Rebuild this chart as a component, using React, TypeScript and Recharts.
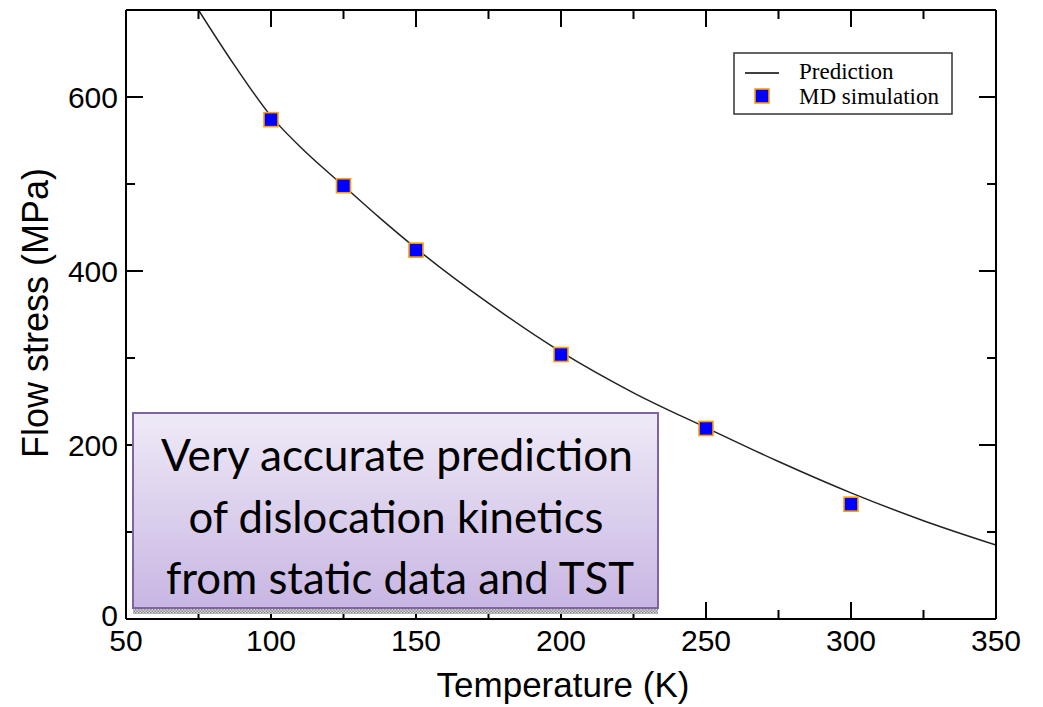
import React from "react";
import { ComposedChart, Line, Scatter, XAxis, YAxis } from "recharts";

// ---- data ----
const predictionTemperature = [75, 87.5, 100, 112.5, 125, 137.5, 150, 175, 200, 225, 250, 275, 300, 325, 350];
const predictionStress = [700, 636, 578, 535, 498, 461, 426, 363, 307, 260, 220, 181, 145, 113, 85];
const mdTemperature = [100, 125, 150, 200, 250, 300];
const mdStress = [574, 498, 424, 304, 219, 132];
const xTicks = [50, 75, 100, 125, 150, 175, 200, 225, 250, 275, 300, 325, 350];
const yTicks = [0, 100, 200, 300, 400, 500, 600, 700];
const xMajorStep = 50;
const yMajorStep = 200;
const boxLines = ["Very accurate prediction", "of dislocation kinetics", "from static data and TST"];
const legendLabels = ["Prediction", "MD simulation"];
const xTitle = "Temperature (K)";
const yTitle = "Flow stress (MPa)";

const predictionData = predictionTemperature.map((x, i) => ({ x, y: predictionStress[i] }));
const mdData = mdTemperature.map((x, i) => ({ x, y: mdStress[i] }));

const SANS = "'Liberation Sans', Arial, Helvetica, sans-serif";
const SERIF = "'Liberation Serif', 'Times New Roman', serif";
const MAJOR = 17;
const MINOR = 9;

const BottomTick = (props: any) => {
  const { x, y, payload } = props;
  const v = payload.value;
  const major = v % xMajorStep === 0;
  return (
    <g>
      <line x1={x} x2={x} y1={y} y2={y - (major ? MAJOR : MINOR)} stroke="#000" strokeWidth={2} />
      {major && (
        <text x={x} y={y + 32} textAnchor="middle" fontSize={30} fontFamily={SANS} fill="#000">
          {v}
        </text>
      )}
    </g>
  );
};

const TopTick = (props: any) => {
  const { x, y, payload } = props;
  const major = payload.value % xMajorStep === 0;
  return <line x1={x} x2={x} y1={y} y2={y + (major ? MAJOR : MINOR)} stroke="#000" strokeWidth={2} />;
};

const LeftTick = (props: any) => {
  const { x, y, payload } = props;
  const v = payload.value;
  const major = v % yMajorStep === 0;
  const lift = v === 0 ? 4 : 0;
  return (
    <g>
      <line x1={x} x2={x + (major ? MAJOR : MINOR)} y1={y} y2={y} stroke="#000" strokeWidth={2} />
      {major && (
        <text x={x - 8} y={y + 11 - lift} textAnchor="end" fontSize={30} fontFamily={SANS} fill="#000">
          {v}
        </text>
      )}
    </g>
  );
};

const RightTick = (props: any) => {
  const { x, y, payload } = props;
  const major = payload.value % yMajorStep === 0;
  return <line x1={x} x2={x - (major ? MAJOR : MINOR)} y1={y} y2={y} stroke="#000" strokeWidth={2} />;
};

const SquareMarker = (props: any) => {
  const { cx, cy } = props;
  if (cx == null || cy == null) return null;
  return <rect x={cx - 7} y={cy - 7} width={14} height={14} fill="#0000ff" stroke="#ffa000" strokeWidth={1.6} />;
};

export default function App() {
  return (
    <div style={{ position: "relative", width: 1035, height: 699 }}>
      <ComposedChart
        width={1035}
        height={699}
        margin={{ top: 1, right: 46, bottom: 87, left: 117 }}
      >
        <XAxis
          xAxisId="b"
          dataKey="x"
          type="number"
          domain={[50, 350]}
          ticks={xTicks}
          interval={0}
          allowDataOverflow
          height={1}
          tickSize={0}
          tickMargin={0}
          tickLine={false}
          tick={<BottomTick />}
          axisLine={{ stroke: "#000", strokeWidth: 2 }}
        />
        <XAxis
          xAxisId="t"
          orientation="top"
          dataKey="x"
          type="number"
          domain={[50, 350]}
          ticks={xTicks}
          interval={0}
          allowDataOverflow
          height={1}
          tickSize={0}
          tickMargin={0}
          tickLine={false}
          tick={<TopTick />}
          axisLine={{ stroke: "#000", strokeWidth: 2 }}
        />
        <YAxis
          yAxisId="l"
          dataKey="y"
          type="number"
          domain={[0, 700]}
          ticks={yTicks}
          interval={0}
          allowDataOverflow
          width={1}
          tickSize={0}
          tickMargin={0}
          tickLine={false}
          tick={<LeftTick />}
          axisLine={{ stroke: "#000", strokeWidth: 2 }}
        />
        <YAxis
          yAxisId="r"
          orientation="right"
          dataKey="y"
          type="number"
          domain={[0, 700]}
          ticks={yTicks}
          interval={0}
          allowDataOverflow
          width={1}
          tickSize={0}
          tickMargin={0}
          tickLine={false}
          tick={<RightTick />}
          axisLine={{ stroke: "#000", strokeWidth: 2 }}
        />
        <Line
          xAxisId="b"
          yAxisId="l"
          data={predictionData}
          dataKey="y"
          type="monotone"
          stroke="#222"
          strokeWidth={1.5}
          dot={false}
          activeDot={false}
          isAnimationActive={false}
        />
        <Scatter
          xAxisId="b"
          yAxisId="l"
          data={mdData}
          dataKey="y"
          shape={<SquareMarker />}
          isAnimationActive={false}
        />
      </ComposedChart>

      <svg
        width={1043}
        height={707}
        style={{ position: "absolute", left: -8, top: -8, pointerEvents: "none" }}
      >
        <defs>
          <linearGradient id="boxGrad" x1="0" y1="0" x2="0" y2="1">
            <stop offset="0%" stopColor="#efeaf7" />
            <stop offset="100%" stopColor="#c8b6e3" />
          </linearGradient>
          <pattern id="hatch" width="3" height="3" patternUnits="userSpaceOnUse">
            <rect width="3" height="3" fill="#d8d8d8" />
            <rect width="1.5" height="1.5" fill="#8a8a8a" />
            <rect x="1.5" y="1.5" width="1.5" height="1.5" fill="#8a8a8a" />
          </pattern>
        </defs>

        {/* legend */}
        <rect x={734} y={53} width={218} height={61} fill="#fff" stroke="#333" strokeWidth={1.5} />
        <line x1={745} x2={779} y1={73} y2={73} stroke="#000" strokeWidth={1.5} />
        <text x={799} y={79} fontSize={23} fontFamily={SERIF} fill="#000">{legendLabels[0]}</text>
        <rect x={755} y={89} width={14} height={14} fill="#0000ff" stroke="#ffa000" strokeWidth={1.6} />
        <text x={799} y={104} fontSize={23} fontFamily={SERIF} fill="#000">{legendLabels[1]}</text>

        {/* axis titles */}
        <text x={563} y={697} textAnchor="middle" fontSize={35} fontFamily={SANS} fill="#000">{xTitle}</text>
        <text
          x={48}
          y={313}
          textAnchor="middle"
          fontSize={36}
          fontFamily={SANS}
          fill="#000"
          transform="rotate(-90 48 313)"
        >
          {yTitle}
        </text>

        {/* annotation box */}
        <rect x={133} y={608} width={525} height={6} fill="url(#hatch)" />
        <rect x={133} y={413} width={525} height={195} fill="url(#boxGrad)" stroke="#8064a2" strokeWidth={2} />
        <text x={397} y={471} textAnchor="middle" fontSize={44} fontFamily="Lato, 'Open Sans', sans-serif" fill="#000" textLength={472} lengthAdjust="spacingAndGlyphs">{boxLines[0]}</text>
        <text x={396} y={533} textAnchor="middle" fontSize={44} fontFamily="Lato, 'Open Sans', sans-serif" fill="#000" textLength={415} lengthAdjust="spacingAndGlyphs">{boxLines[1]}</text>
        <text x={400} y={594} textAnchor="middle" fontSize={44} fontFamily="Lato, 'Open Sans', sans-serif" fill="#000" textLength={468} lengthAdjust="spacingAndGlyphs">{boxLines[2]}</text>
      </svg>
    </div>
  );
}
